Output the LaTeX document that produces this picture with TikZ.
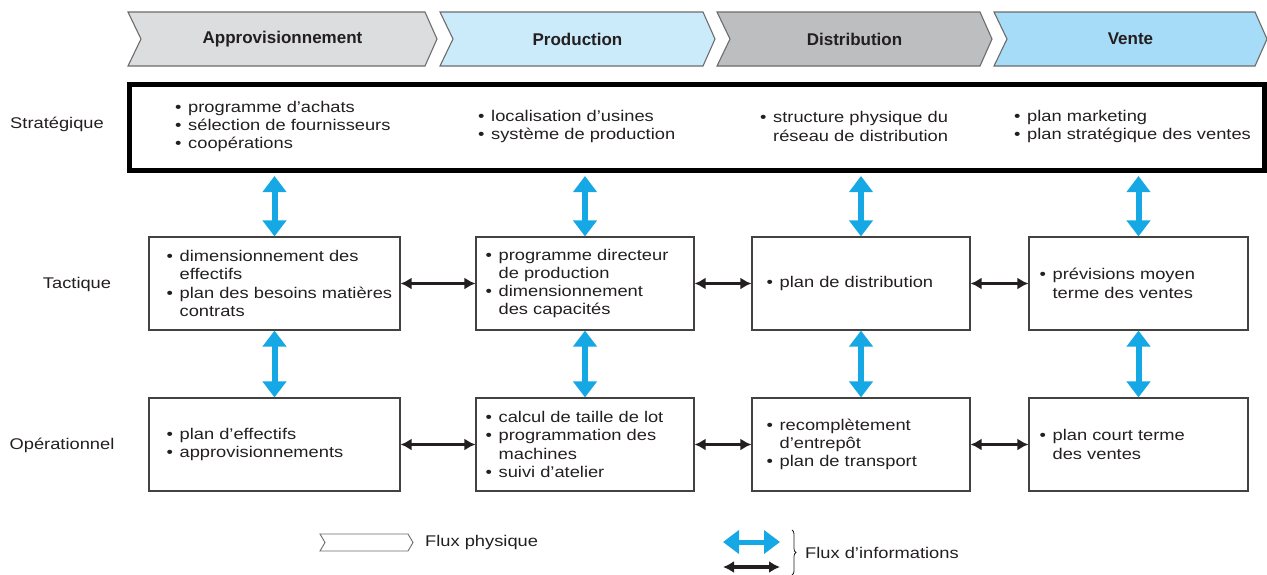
\documentclass[tikz,border=0pt]{standalone}
\usepackage{fontspec}
\setmainfont{Liberation Sans}[FakeStretch=1.18]
\newfontfamily\headfont{Liberation Sans}
\usetikzlibrary{positioning,arrows.meta,decorations.pathreplacing}
\definecolor{ink}{RGB}{35,31,32}
\definecolor{infoblue}{RGB}{22,168,228}
\definecolor{chevgrey}{RGB}{220,221,223}
\definecolor{chevblue}{RGB}{204,235,250}
\definecolor{chevdark}{RGB}{189,190,192}
\definecolor{chevsky}{RGB}{166,220,247}
\newcommand{\bul}{\makebox[13pt][l]{\textbullet}}
\newcommand{\cont}{\hspace*{13pt}}
\newcommand{\chevron}[5]{%
  \filldraw[chev,fill=#3] (#1,12) -- (#2-12,12) -- (#2,39) -- (#2-12,66) -- (#1,66) -- (#1+13,39) -- cycle;
  \node[head] (#4) at ({(#1+#2)/2},39) {#5};}

\begin{document}
\begin{tikzpicture}[x=1pt,y=-1pt,font=\fontsize{15.5}{18.3}\selectfont,
  chev/.style={draw=gray!85!black,line width=1.1pt},
  head/.style={font=\headfont\bfseries\fontsize{17}{20}\selectfont,text=ink},
  box/.style={draw=ink!85,line width=1.1pt,minimum width=#1,minimum height=93pt,inner sep=0pt},
  stratbox/.style={draw=black,line width=5pt,minimum width=1135pt,minimum height=86pt,inner sep=0pt},
  txt/.style={align=left,inner sep=0pt,text=ink},
  lbl/.style={inner sep=0pt,text=ink},
  info/.style={{Triangle[length=16pt,width=23pt]}-{Triangle[length=16pt,width=23pt]},line width=6pt,draw=infoblue},
  mat/.style={{Latex[length=11pt,width=12pt]}-{Latex[length=11pt,width=12pt]},line width=3.5pt,draw=ink}]
\useasboundingbox (0,0) rectangle (1267,574);

\chevron{128}{437}{chevgrey}{appro}{Approvisionnement}
\chevron{440}{715}{chevblue}{prod}{Production}
\chevron{717}{992}{chevdark}{distr}{Distribution}
\chevron{994}{1267}{chevsky}{vente}{Vente}

\node[stratbox] (strat) at (697,127.5) {};
\node[txt,anchor=west] (s1) at (175,126.5) {\bul programme d’achats\\\bul sélection de fournisseurs\\\bul coopérations};
\node[txt,anchor=west] (s2) at (478,126.5) {\bul localisation d’usines\\\bul système de production};
\node[txt,anchor=west] (s3) at (760,126.5) {\bul structure physique du\\\cont réseau de distribution};
\node[txt,anchor=west] (s4) at (1014,126.5) {\bul plan marketing\\\bul plan stratégique des ventes};

\node[lbl] (rs) at (57,124) {Stratégique};
\node[lbl] (rt) at (77,284) {Tactique};
\node[lbl] (ro) at (62,445) {Opérationnel};

\node[box=251pt] (t1) at (274.5,283.5) {};
\node[box=218pt] (t2) at (585,283.5) {};
\node[box=218pt] (t3) at (861,283.5) {};
\node[box=219pt] (t4) at (1138.5,283.5) {};
\node[box=251pt] (o1) at (274.5,444.5) {};
\node[box=218pt] (o2) at (585,444.5) {};
\node[box=218pt] (o3) at (861,444.5) {};
\node[box=219pt] (o4) at (1138.5,444.5) {};

\node[txt,right=18pt of t1.west] (t1x) {\bul dimensionnement des\\\cont effectifs\\\bul plan des besoins matières\\\cont contrats};
\node[txt,right=10pt of t2.west] (t2x) {\bul programme directeur\\\cont de production\\\bul dimensionnement\\\cont des capacités};
\node[txt,right=15pt of t3.west] (t3x) {\bul plan de distribution};
\node[txt,right=11pt of t4.west] (t4x) {\bul prévisions moyen\\\cont terme des ventes};
\node[txt,right=18pt of o1.west] (o1x) {\bul plan d’effectifs\\\bul approvisionnements};
\node[txt,right=10pt of o2.west] (o2x) {\bul calcul de taille de lot\\\bul programmation des\\\cont machines\\\bul suivi d’atelier};
\node[txt,right=15pt of o3.west] (o3x) {\bul recomplètement\\\cont d’entrepôt\\\bul plan de transport};
\node[txt,right=11pt of o4.west] (o4x) {\bul plan court terme\\\cont des ventes};

\foreach \t/\o in {t1/o1,t2/o2,t3/o3,t4/o4}{
  \draw[info] ([yshift=-3pt]\t.north |- strat.south) -- (\t.north);
  \draw[info] (\t.south) -- (\o.north);
}
\draw[mat] (t1.east) -- (t2.west);
\draw[mat] (t2.east) -- (t3.west);
\draw[mat] (t3.east) -- (t4.west);
\draw[mat] (o1.east) -- (o2.west);
\draw[mat] (o2.east) -- (o3.west);
\draw[mat] (o3.east) -- (o4.west);

\draw[chev,line width=0.9pt,fill=white] (320,534) -- (408,534) -- (413,542.5) -- (408,551) -- (320,551) -- (325,542.5) -- cycle;
\node[lbl,anchor=west] (lphys) at (425,542) {Flux physique};
\coordinate (lb1) at (723,542);
\coordinate (lb2) at (780,542);
\coordinate (lk1) at (723,567);
\coordinate (lk2) at (780,567);
\draw[info,line width=5pt] (lb1) -- (lb2);
\draw[mat] (lk1) -- (lk2);
\coordinate (br1) at (792,530);
\coordinate (br2) at (792,575);
\draw[ink,line width=0.8pt,decorate,decoration={brace,amplitude=4pt}] (br1) -- (br2);
\node[lbl,anchor=west] (linfo) at (805,553) {Flux d’informations};
\end{tikzpicture}
\end{document}
